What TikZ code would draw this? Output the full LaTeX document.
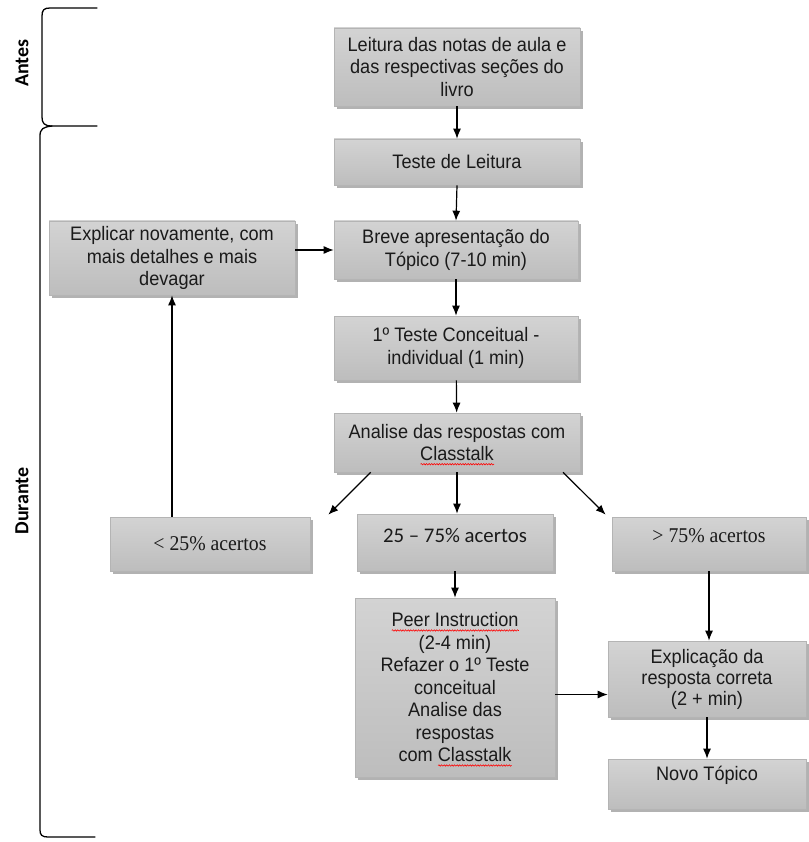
\documentclass[tikz,border=0pt]{standalone}
\usepackage{fontspec}
\setmainfont{Liberation Sans}[FakeStretch=0.93]
\newfontfamily\serifface{Liberation Serif}[FakeStretch=0.94]
\newfontfamily\calface{Carlito}
\usetikzlibrary{arrows.meta,shadows,calc,decorations.pathmorphing}
% red wavy underline (spell-check mark)
\newcommand\spellwave[1]{\setbox0=\hbox{#1}\edef\wavew{\the\wd0}%
  \rlap{\raisebox{-4.5pt}[0pt][0pt]{\tikz\draw[red,line width=0.6pt,decorate,
    decoration={snake,amplitude=0.7pt,segment length=2.6pt}] (0pt,0pt) -- (\wavew,0pt);}}%
  \box0}
\definecolor{boxtop}{HTML}{D3D3D3}
\definecolor{boxbot}{HTML}{BDBDBD}
\definecolor{boxline}{HTML}{B4B4B4}
\definecolor{ink}{HTML}{1A1A1A}
\begin{document}
\begin{tikzpicture}[x=1pt,y=-1pt,
  box/.style={draw=boxline,line width=0.6pt,top color=boxtop,bottom color=boxbot,
    inner sep=0pt,align=center,text=ink,font=\fontsize{19.5}{22.5}\selectfont,
    drop shadow={shadow xshift=2.5pt,shadow yshift=-3pt,fill=black,opacity=0.3}},
  serifbox/.style={box,font=\serifface\fontsize{21}{22}\selectfont},
  calbox/.style={box,font=\calface\fontsize{20.8}{24}\selectfont},
  arr/.style={line width=1.2pt,-{Latex[length=10pt,width=8pt]}},
  brace/.style={line width=1.3pt,line cap=round},
  side/.style={rotate=90,font=\calface\bfseries\fontsize{20}{24}\selectfont}]
\useasboundingbox (0,0) rectangle (808,842);

% brackets for the two phases
\draw[brace] (97,8) -- (50,8) .. controls (44,8) and (42,10) .. (42,16) -- (42,117)
  .. controls (42,123) and (44,126) .. (52,126) -- (97,126);
\draw[brace] (52,126) .. controls (43,127) and (40,129) .. (40,136) -- (40,830)
  .. controls (40,835) and (42,837) .. (48,837) -- (95,837);
\node[side] (antes) at (22,63) {Antes};
\node[side] (durante) at (22,501) {Durante};

% main column
\node[box,minimum width=246,minimum height=78] (b1) at (457,67)
  {Leitura das notas de aula e\\das respectivas seções do\\livro};
\node[box,minimum width=246,minimum height=46] (b2) at (457,162) {Teste de Leitura};
\node[box,minimum width=244,minimum height=58] (b3) at (456,250)
  {Breve apresentação do\\Tópico (7-10 min)};
\node[box,minimum width=246,minimum height=74] (ex) at (172,258)
  {Explicar novamente, com\\mais detalhes e mais\\devagar};
\node[box,minimum width=244,minimum height=64] (b4) at (456,348)
  {1º Teste Conceitual -\\individual (1 min)};
\node[box,minimum width=246,minimum height=59] (b5) at (457,442.5)
  {Analise das respostas com\\\spellwave{Classtalk}};

% outcomes
\node[serifbox,minimum width=200,minimum height=54] (lo) at (210,544) {< 25\% acertos};
\node[calbox,minimum width=196,minimum height=57,text depth=15pt] (mi) at (455,542.5) {25 – 75\% acertos};
\node[serifbox,minimum width=194,minimum height=54,text depth=17pt] (hi) at (709,544) {> 75\% acertos};

\node[box,minimum width=200,minimum height=179] (peer) at (455,687.5)
  {\spellwave{Peer Instruction}\\(2-4 min)\\Refazer o 1º Teste\\conceitual\\Analise das\\respostas\\com \spellwave{Classtalk}};
\node[box,minimum width=198,minimum height=76,font=\fontsize{19.5}{21}\selectfont] (exp) at (707,679)
  {Explicação da\\resposta correta\\(2 + min)};
\node[box,minimum width=198,minimum height=50,text depth=22pt] (novo) at (707,784) {Novo Tópico};

% connectors
\draw[arr] (b1) -- (b2);
\draw[arr] (b2.south) -- (b3.north);
\draw[arr] (ex.east |- b3) -- (b3.west);
\draw[arr] (b3) -- (b4);
\draw[arr] (b4) -- (b5);
\coordinate (l1) at ($(b5.south west)!0.15!(b5.south east)$);
\coordinate (l2) at ($(lo.north east)+(18,-2)$);
\coordinate (r1) at ($(b5.south west)!0.93!(b5.south east)$);
\coordinate (r2) at ($(hi.north west)+(-6,-2)$);
\draw[arr] (l1) -- (l2);
\draw[arr] (b5.south) -- (b5.south |- mi.north);
\draw[arr] (r1) -- (r2);
\draw[arr] (lo.north -| ex.south) -- (ex.south);
\draw[arr] (mi.south) -- (mi.south |- peer.north);
\draw[arr] (hi.south) -- (hi.south |- exp.north);
\coordinate (pe) at ($(peer.east)+(0,7)$);
\draw[arr] (pe) -- (pe -| exp.west);
\draw[arr] (exp.south) -- (exp.south |- novo.north);
\end{tikzpicture}
\end{document}
